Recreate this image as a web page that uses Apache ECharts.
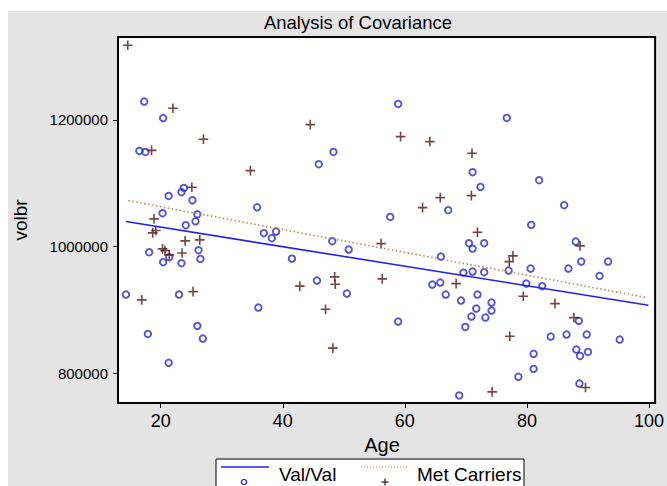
<!DOCTYPE html>
<html>
<head>
<meta charset="utf-8">
<script src="https://cdn.jsdelivr.net/npm/echarts@6/dist/echarts.min.js"></script>
<style>
html,body{margin:0;padding:0;background:#ffffff;}
#bg{position:absolute;left:8px;top:11px;width:659px;height:475px;background:#e4e4e4;}
#chart{position:absolute;left:0;top:0;width:667px;height:486px;}
</style>
</head>
<body>
<div id="bg"></div>
<div id="chart"></div>
<script>
// ---- data ----
const valAge = [17.3,20.4,16.5,17.5,23.8,23.4,21.3,25.2,35.8,20.3,26.0,25.7,24.1,18.1,21.4,26.2,26.5,20.4,23.4,14.3,23.0,36.0,26.0,17.9,26.9,21.3,
  58.9,48.3,45.9,57.6,36.9,38.9,38.2,48.1,50.8,41.5,45.6,50.5,58.9,
  76.7,71.1,72.4,67.1,80.7,82.0,70.5,71.1,73.0,65.9,80.6,69.6,71.1,73.0,77.0,64.5,65.8,79.9,66.7,71.9,69.2,74.2,71.7,74.2,70.9,73.2,69.9,81.1,81.1,78.6,68.9,
  86.1,88.0,88.9,93.3,86.8,91.9,82.5,88.5,83.9,86.5,89.8,95.2,88.1,88.7,90.0,88.6];
const valVol = [1229000,1203000,1151000,1149500,1092700,1085900,1080000,1073200,1062000,1052700,1051000,1040000,1033800,991100,983300,994300,980600,975400,973800,924200,924200,903700,874800,862100,854700,816400,
  1225300,1149500,1130100,1046900,1021200,1023700,1013300,1008500,995300,981000,946300,925800,881600,
  1203200,1117500,1094300,1057500,1034300,1104800,1005400,996800,1005400,984200,965300,958900,960500,959600,962100,940000,943200,941600,924200,924200,914700,911600,902100,898900,889500,887900,873200,830600,806900,794300,764900,
  1065400,1007900,976300,976300,965300,953700,937500,882700,857900,861000,861000,853200,837400,827400,833700,783700];
const metAge = [14.6,22.0,27.0,18.5,34.7,25.1,18.9,18.7,19.2,24.0,26.4,20.3,20.7,21.4,23.5,16.9,25.3,
  44.5,59.3,56.1,42.8,48.5,48.6,56.3,47.0,48.2,
  64.1,71.0,65.8,70.9,62.9,71.9,77.7,77.1,68.4,79.4,77.2,74.3,88.7,84.6,87.7,89.6];
const metVol = [1318000,1218500,1169600,1152000,1120000,1093800,1043700,1021600,1025300,1009000,1010600,996400,993700,986900,990000,915800,928900,
  1192600,1173700,1004700,937500,952200,940600,949000,901100,839600,
  1165800,1147500,1077400,1080500,1061600,1022700,985300,976300,941600,921700,858500,770600,1001100,910000,887900,777400];
const valFitAge = [14.3, 99.9];
const valFitVol = [1039500, 907500];
const metFitAge = [14.7, 99.6];
const metFitVol = [1072600, 919500];
const xTicks = [20, 40, 60, 80, 100];
const yTicks = [800000, 1000000, 1200000];
const seriesNames = ['Val/Val', 'Met Carriers'];

const zip = (a, b) => a.map((v, i) => [v, b[i]]);
const FONT = 'Liberation Sans, Arial, sans-serif';
const BLUE = '#2c2cc0';
const LINEBLUE = '#2222e6';
const BROWN = '#4e1a1a';
const TAN = '#b8865c';
const PLUS = 'path://M4,0H5.6V9.6H4Z M0,4H9.6V5.6H0Z';

const chart = echarts.init(document.getElementById('chart'), null, {renderer: 'svg'});
chart.setOption({
  backgroundColor: 'transparent',
  animation: false,
  title: {
    text: 'Analysis of Covariance',
    left: 353, top: 8, textAlign: 'center',
    textStyle: {fontFamily: FONT, fontSize: 18.5, fontWeight: 'normal', color: '#000'}
  },
  grid: {
    left: 118, top: 37, right: 10, bottom: 83,
    show: true, backgroundColor: '#ffffff', borderColor: '#000', borderWidth: 2
  },
  xAxis: {
    type: 'value', min: 13, max: 101,
    name: 'Age', nameLocation: 'middle', nameGap: 28,
    nameTextStyle: {fontFamily: FONT, fontSize: 20, color: '#000', padding: [0, 9, 0, 0]},
    axisLine: {show: false},
    splitLine: {show: false},
    axisTick: {show: true, length: 5, lineStyle: {color: '#000', width: 1}, customValues: xTicks},
    axisLabel: {fontFamily: FONT, fontSize: 18, color: '#000', margin: 9, customValues: xTicks}
  },
  yAxis: {
    type: 'value', min: 753000, max: 1331000,
    name: 'volbr', nameLocation: 'middle', nameGap: 88, nameRotate: 90,
    nameTextStyle: {fontFamily: FONT, fontSize: 19, color: '#000'},
    axisLine: {show: false},
    splitLine: {show: false},
    axisTick: {show: true, length: 5, lineStyle: {color: '#000', width: 1}, customValues: yTicks},
    axisLabel: {fontFamily: FONT, fontSize: 15, color: '#000', margin: 10, customValues: yTicks,
      formatter: v => String(v)}
  },
  series: [
    {name: seriesNames[0], type: 'scatter', data: zip(valAge, valVol),
      symbol: 'circle', symbolSize: 6.5,
      itemStyle: {color: 'transparent', borderColor: BLUE, borderWidth: 1.9}},
    {name: seriesNames[1], type: 'scatter', data: zip(metAge, metVol),
      symbol: PLUS, symbolSize: 9.6,
      itemStyle: {color: BROWN}},
    {name: seriesNames[0], type: 'line', data: zip(valFitAge, valFitVol),
      showSymbol: false, symbol: 'none',
      lineStyle: {color: LINEBLUE, width: 1.6, type: 'solid'}},
    {name: seriesNames[1], type: 'line', data: zip(metFitAge, metFitVol),
      showSymbol: false, symbol: 'none',
      lineStyle: {color: TAN, width: 1.6, type: [1.5, 2.5]}}
  ],
  graphic: [
    {type: 'rect', shape: {x: 216, y: 459, width: 308, height: 40},
      style: {fill: '#fff', stroke: '#000', lineWidth: 1}},
    {type: 'line', shape: {x1: 221, y1: 467, x2: 269, y2: 467},
      style: {stroke: LINEBLUE, lineWidth: 1.4}},
    {type: 'circle', shape: {cx: 244, cy: 482, r: 2.6},
      style: {fill: 'none', stroke: BLUE, lineWidth: 1.4}},
    {type: 'text', x: 279, y: 465,
      style: {text: seriesNames[0], fontFamily: FONT, fontSize: 19, fill: '#000'}},
    {type: 'line', shape: {x1: 361, y1: 467, x2: 407, y2: 467},
      style: {stroke: TAN, lineWidth: 1.2, lineDash: [1, 2]}},
    {type: 'line', shape: {x1: 381.5, y1: 482, x2: 388.5, y2: 482},
      style: {stroke: BROWN, lineWidth: 1.3}},
    {type: 'line', shape: {x1: 385, y1: 478.5, x2: 385, y2: 485.5},
      style: {stroke: BROWN, lineWidth: 1.3}},
    {type: 'text', x: 417, y: 465,
      style: {text: seriesNames[1], fontFamily: FONT, fontSize: 19, fill: '#000'}}
  ]
});
</script>
</body>
</html>
